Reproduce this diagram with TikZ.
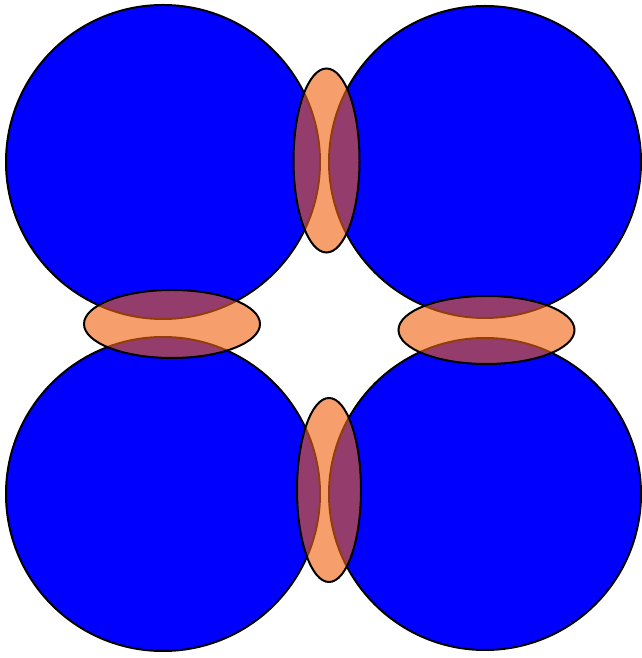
\documentclass[tikz,border=0pt]{standalone}
\usepackage{tikz}

\definecolor{lensfill}{RGB}{240,100,20}
\tikzset{
  ball/.style={draw=black, line width=2pt, fill=blue},
  lens/.style={draw=black, line width=2pt, fill=lensfill, fill opacity=0.62}
}

\begin{document}
\begin{tikzpicture}[x=1pt,y=1pt]
%
	\useasboundingbox (0,0) rectangle (641,658);
	\draw[ball] (163,496) circle (157);
	\draw[ball] (485,496) circle (156);
	\draw[ball] (163,164) circle (157);
	\draw[ball] (485,164) circle (156);
%
	\draw[lens] (326.5,497.5) ellipse (33 and 92);
	\draw[lens] (172,334) ellipse (88 and 34);
	\draw[lens] (486.5,328) ellipse (88 and 34);
	\draw[lens] (329,168) ellipse (32 and 92);
%
\end{tikzpicture}
\end{document}
